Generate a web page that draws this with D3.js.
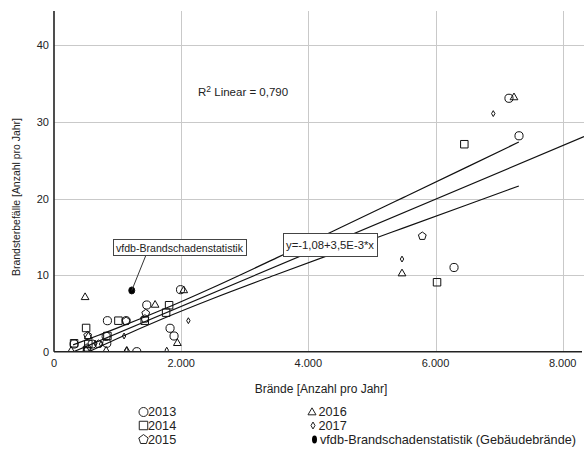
<!DOCTYPE html>
<html>
<head>
<meta charset="utf-8">
<script src="https://cdn.jsdelivr.net/npm/d3@7"></script>
<style>
  body { margin: 0; background: #fff; }
  svg { display: block; font-family: "Liberation Sans", Arial, sans-serif; }
</style>
</head>
<body>
<div id="chart"></div>
<script>
// values, [Brände, Brandsterbefälle]
const data2013 = [[7313, 28.2], [7155, 33.1], [6291, 11.0], [1990, 8.1], [1459, 6.1], [840, 4.05], [1134, 4.05],
  [1825, 3.06], [1888, 2.05], [820, 2.0], [316, 1.0], [600, 1.0], [830, 1.1], [1302, 0]];
const data2014 = [[6453, 27.1], [6024, 9.07], [1810, 6.07], [1763, 5.1], [1427, 4.05], [1013, 4.05], [505, 3.1],
  [840, 2.05], [316, 1.1], [540, 1.0], [520, 0.1]];
const data2015 = [[5792, 15.1], [1443, 5.0], [1430, 4.3], [1134, 4.0], [530, 2.1], [700, 1.0], [520, 0.5]];
const data2016 = [[7234, 33.2], [5473, 10.2], [2040, 8.0], [489, 7.1], [1590, 6.1], [1940, 1.1], [269, 0.1],
  [505, 0.2], [820, 0.1], [1145, 0.1], [540, 2.0]];
const data2017 = [[6908, 31.1], [5473, 12.1], [2113, 4.05], [1102, 2.05], [650, 1.1], [740, 1.0], [1773, 0.2], [1140, 0.2]];
const dataVfdb = [[1223, 8.0]];

// regression y = -1,08 + 3,5E-3 * x
const fitIntercept = -1.08;
const fitSlope = 0.0035;
// confidence band
const ciX = [300, 700, 1000, 1700, 2500, 3500, 4500, 5500, 6500, 7310];
const ciUpper = [0.89, 2.15, 3.11, 5.47, 8.39, 12.25, 16.19, 20.16, 24.14, 27.38];
const ciLower = [-0.95, 0.59, 1.73, 4.27, 6.95, 10.09, 13.15, 16.18, 19.2, 21.64];

const xTicks = [0, 2000, 4000, 6000, 8000];
const yTicks = [0, 10, 20, 30, 40];
const legendLeft = ["2013", "2014", "2015"];
const legendRight = ["2016", "2017", "vfdb-Brandschadenstatistik (Gebäudebrände)"];

const W = 584, H = 450;
const m = { left: 54, top: 11, right: 0, bottom: 98.3 };

const svg = d3.select("#chart").append("svg")
  .attr("width", W).attr("height", H);

const x = d3.scaleLinear().domain([0, 8335]).range([m.left, W - m.right]);
const y = d3.scaleLinear().domain([0, 44.5]).range([H - m.bottom, m.top]);

const fmt = d3.formatLocale({ decimal: ",", thousands: ".", grouping: [3], currency: ["", "€"] }).format(",.0f");

svg.append("defs").append("clipPath").attr("id", "plot")
  .append("rect").attr("x", m.left).attr("y", m.top)
  .attr("width", W - m.left - m.right).attr("height", H - m.bottom - m.top);

// grid
const grid = svg.append("g").attr("stroke", "#c9c9c9").attr("stroke-width", 1);
grid.selectAll(".gx").data(xTicks.slice(1)).join("line")
  .attr("x1", d => Math.round(x(d)) + 0.5).attr("x2", d => Math.round(x(d)) + 0.5)
  .attr("y1", m.top).attr("y2", H - m.bottom);
grid.selectAll(".gy").data(yTicks.slice(1)).join("line")
  .attr("x1", m.left).attr("x2", W)
  .attr("y1", d => Math.round(y(d)) + 0.5).attr("y2", d => Math.round(y(d)) + 0.5);

// tick labels
svg.append("g").selectAll("text").data(xTicks).join("text")
  .attr("x", d => x(d)).attr("y", 367).attr("text-anchor", "middle")
  .attr("font-size", 11).attr("fill", "#222").text(d => fmt(d));
svg.append("g").selectAll("text").data(yTicks).join("text")
  .attr("x", 49).attr("y", d => y(d) + 4).attr("text-anchor", "end")
  .attr("font-size", 11).attr("fill", "#222").text(d => d);

// axis titles
svg.append("text").attr("x", 321).attr("y", 393).attr("text-anchor", "middle")
  .attr("font-size", 12).attr("fill", "#222").text("Brände [Anzahl pro Jahr]");
svg.append("text").attr("transform", "translate(20,197) rotate(-90)")
  .attr("text-anchor", "middle").attr("font-size", 11).attr("fill", "#222")
  .attr("textLength", 158).attr("lengthAdjust", "spacingAndGlyphs")
  .text("Brandsterbefälle [Anzahl pro Jahr]");

// fit + confidence lines
const lines = svg.append("g").attr("clip-path", "url(#plot)")
  .attr("fill", "none").attr("stroke", "#111").attr("stroke-width", 1.2);
const lineGen = d3.line().x(d => x(d[0])).y(d => y(d[1])).curve(d3.curveMonotoneX);
lines.append("path").attr("d", lineGen(x.domain().map(v => [v, fitIntercept + fitSlope * v])));
lines.append("path").attr("d", lineGen(ciX.map((v, i) => [v, ciUpper[i]])));
lines.append("path").attr("d", lineGen(ciX.map((v, i) => [v, ciLower[i]])));

// symbols
const pentagon = {
  draw(ctx, size) {
    const r = Math.sqrt(size / 2.378);
    for (let i = 0; i < 5; i++) {
      const a = -Math.PI / 2 + i * 2 * Math.PI / 5;
      const px = r * Math.cos(a), py = r * Math.sin(a);
      i ? ctx.lineTo(px, py) : ctx.moveTo(px, py);
    }
    ctx.closePath();
  }
};
const series = [
  { data: data2013, type: d3.symbolCircle, size: 52 },
  { data: data2014, type: d3.symbolSquare, size: 56 },
  { data: data2015, type: pentagon, size: 40 },
  { data: data2016, type: d3.symbolTriangle, size: 26 },
  { data: data2017, type: d3.symbolDiamond, size: 10 }
];
const pts = svg.append("g").attr("clip-path", "url(#plot)")
  .attr("fill", "none").attr("stroke", "#111").attr("stroke-width", 1);
series.forEach(s => {
  pts.append("g").selectAll("path").data(s.data).join("path")
    .attr("transform", d => `translate(${x(d[0])},${y(d[1])})`)
    .attr("d", d3.symbol(s.type, s.size)());
});
pts.selectAll("ellipse").data(dataVfdb).join("ellipse")
  .attr("cx", d => x(d[0])).attr("cy", d => y(d[1]))
  .attr("rx", 3).attr("ry", 3.5).attr("fill", "#000");

// axes lines
svg.append("line").attr("x1", m.left).attr("x2", m.left).attr("y1", m.top).attr("y2", H - m.bottom)
  .attr("stroke", "#222").attr("stroke-width", 1.6);
svg.append("line").attr("x1", m.left).attr("x2", W - 2).attr("y1", H - m.bottom).attr("y2", H - m.bottom)
  .attr("stroke", "#222").attr("stroke-width", 1.6);

// annotations
const r2 = svg.append("text").attr("x", 198).attr("y", 96).attr("font-size", 11.5).attr("fill", "#222");
r2.append("tspan").text("R");
r2.append("tspan").attr("font-size", 8.5).attr("dy", -4).text("2");
r2.append("tspan").attr("dy", 4).text(" Linear = 0,790");

const eq = svg.append("g");
eq.append("rect").attr("x", 283.5).attr("y", 233.5).attr("width", 94).attr("height", 23)
  .attr("fill", "#fff").attr("stroke", "#444");
eq.append("text").attr("x", 286).attr("y", 249).attr("font-size", 11).attr("fill", "#222")
  .attr("textLength", 88).attr("lengthAdjust", "spacingAndGlyphs")
  .text("y=-1,08+3,5E-3*x");

const vf = svg.append("g");
vf.append("line").attr("x1", 146).attr("y1", 255).attr("x2", x(dataVfdb[0][0])).attr("y2", y(dataVfdb[0][1]))
  .attr("stroke", "#333").attr("stroke-width", 1);
vf.append("rect").attr("x", 113.5).attr("y", 239.5).attr("width", 133).attr("height", 16)
  .attr("fill", "#fff").attr("stroke", "#444");
vf.append("text").attr("x", 116).attr("y", 251.5).attr("font-size", 11).attr("fill", "#222")
  .attr("textLength", 127).attr("lengthAdjust", "spacingAndGlyphs")
  .text("vfdb-Brandschadenstatistik");

// legend
const rowY = [412, 425.5, 439.5];
const leg = svg.append("g").attr("font-size", 12.7).attr("fill", "#222");
const legSym = [
  { type: d3.symbolCircle, size: 64 },
  { type: d3.symbolSquare, size: 72 },
  { type: pentagon, size: 58 }
];
legendLeft.forEach((t, i) => {
  leg.append("path").attr("transform", `translate(143.5,${rowY[i]})`)
    .attr("d", d3.symbol(legSym[i].type, legSym[i].size)())
    .attr("fill", "none").attr("stroke", "#222");
  leg.append("text").attr("x", 148).attr("y", rowY[i] + 4.4).text(t);
});
leg.append("path").attr("transform", `translate(312,${rowY[0] + 0.5})`)
  .attr("d", d3.symbol(d3.symbolTriangle, 28)()).attr("fill", "none").attr("stroke", "#222");
leg.append("path").attr("transform", `translate(313,${rowY[1]})`)
  .attr("d", d3.symbol(d3.symbolDiamond, 14)()).attr("fill", "none").attr("stroke", "#222");
leg.append("ellipse").attr("cx", 314.5).attr("cy", rowY[2]).attr("rx", 2.5).attr("ry", 4).attr("fill", "#000");
legendRight.forEach((t, i) => {
  leg.append("text").attr("x", i < 2 ? 318.5 : 320).attr("y", rowY[i] + 4.4).text(t);
});
</script>
</body>
</html>
